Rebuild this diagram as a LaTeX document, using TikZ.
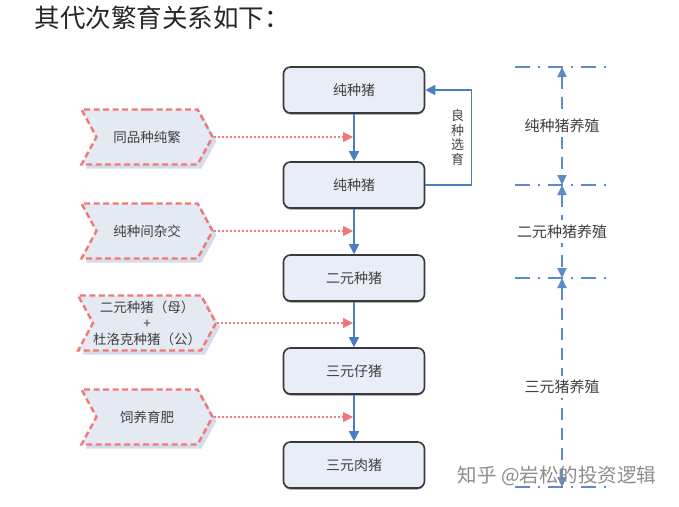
\documentclass[tikz,border=0pt]{standalone}
\usepackage{fontspec}
\setmainfont{Noto Sans CJK SC}
\usetikzlibrary{arrows.meta,shapes.symbols,shadows}

\definecolor{pigfill}{RGB}{232,237,247}
\definecolor{pigline}{RGB}{58,58,58}
\definecolor{flowblue}{RGB}{74,126,193}
\definecolor{flagpink}{RGB}{240,120,120}
\definecolor{flagfill}{RGB}{228,233,242}
\definecolor{flagshadow}{RGB}{214,221,234}
\definecolor{txtgrey}{RGB}{64,64,64}

\tikzset{
	pigbox/.style={draw=pigline,line width=1.6pt,rounded corners=7pt,fill=pigfill,
		minimum width=141pt,minimum height=46pt,text=txtgrey,
		font=\fontsize{14}{16}\selectfont,
		drop shadow={shadow xshift=0pt,shadow yshift=-1.5pt,fill=pigline,opacity=0.6}},
	flag/.style={signal,signal from=west,signal to=east,signal pointer angle=123,
		draw=flagpink,line width=2.4pt,dash pattern=on 6pt off 3.5pt,fill=flagfill,
		minimum width=131pt,minimum height=55pt,inner sep=0pt,text=txtgrey,align=center,
		font=\fontsize{13.5}{16}\selectfont,
		drop shadow={shadow xshift=4pt,shadow yshift=-4pt,fill=flagshadow,opacity=1}},
	flowline/.style={draw=flowblue,line width=1.6pt,-{Triangle[width=10pt,length=10pt]}},
	feedline/.style={draw=flowblue,line width=1.6pt,-{Triangle[width=10pt,length=10pt]}},
	pinkline/.style={draw=flagpink,line width=1.2pt,dash pattern=on 2pt off 2pt,
		-{Triangle[width=10pt,length=10pt,fill=flagpink]}},
	dimline/.style={draw=flowblue!90,line width=2pt,dash pattern=on 15pt off 8pt on 2pt off 8pt},
	dimarrow/.style={draw=flowblue!90,line width=2pt,dash pattern=on 12pt off 8pt,
		{Triangle[width=9pt,length=10pt]}-{Triangle[width=9pt,length=10pt]}},
	dimlabel/.style={fill=white,text=txtgrey,font=\fontsize{15}{17}\selectfont,inner sep=4pt}
}

\begin{document}
\begin{tikzpicture}[x=1pt,y=-1pt]
	\useasboundingbox (0,0) rectangle (679,506);

	\node[anchor=west,font=\fontsize{25.5}{27}\selectfont,text=black!85] (title) at (31,18) {其代次繁育关系如下：};

	% main chain
	\node[pigbox] (chun1) at (354,90)  {纯种猪};
	\node[pigbox] (chun2) at (354,185) {纯种猪};
	\node[pigbox] (eryuan) at (354,278) {二元种猪};
	\node[pigbox] (zai) at (354,371) {三元仔猪};
	\node[pigbox] (rou) at (354,465) {三元肉猪};

	% inputs
	\node[flag] (tongpin) at (147,137) {同品种纯繁};
	\node[flag] (zajiao) at (147,231) {纯种间杂交};
	\node[flag] (duluoke) at (147,323) {二元种猪（母）\\+\\杜洛克种猪（公）};
	\node[flag] (siyang) at (147,417) {饲养育肥};

	\draw[flowline] (chun1) -- (chun2);
	\draw[flowline] (chun2) -- (eryuan);
	\draw[flowline] (eryuan) -- (zai);
	\draw[flowline] (zai) -- (rou);

	\draw[feedline] (chun2.east) -- ++(46,0) |- node[pos=0.25,left=3pt,align=center,text=txtgrey,
		font=\fontsize{13}{14.5}\selectfont]{良\\种\\选\\育} (chun1.east);

	\draw[pinkline] (tongpin.east) -- ([xshift=-1pt]tongpin.east -| chun1.south);
	\draw[pinkline] (zajiao.east) -- ([xshift=-1pt]zajiao.east -| chun1.south);
	\draw[pinkline] (duluoke.east) -- ([xshift=-1pt]duluoke.east -| chun1.south);
	\draw[pinkline] (siyang.east) -- ([xshift=-1pt]siyang.east -| chun1.south);

	% stages
	\coordinate (d1) at (562,67);
	\coordinate (d2) at (562,185);
	\coordinate (d3) at (562,278);
	\coordinate (d4) at (562,487);
	\draw[dimline] (515,67) -- (610,67);
	\draw[dimline] (515,185) -- (610,185);
	\draw[dimline] (515,278) -- (610,278);
	\draw[dimline] (515,487) -- (610,487);
	\draw[dimarrow] (d1) -- node[dimlabel]{纯种猪养殖} (d2);
	\draw[dimarrow] (d2) -- node[dimlabel]{二元种猪养殖} (d3);
	\draw[dimarrow] (d3) -- node[dimlabel,pos=0.52]{三元猪养殖} (d4);

	\node[text=black!45,font=\fontsize{19.5}{21}\selectfont] (mark) at (557,476) {知乎 @岩松的投资逻辑};
\end{tikzpicture}
\end{document}
